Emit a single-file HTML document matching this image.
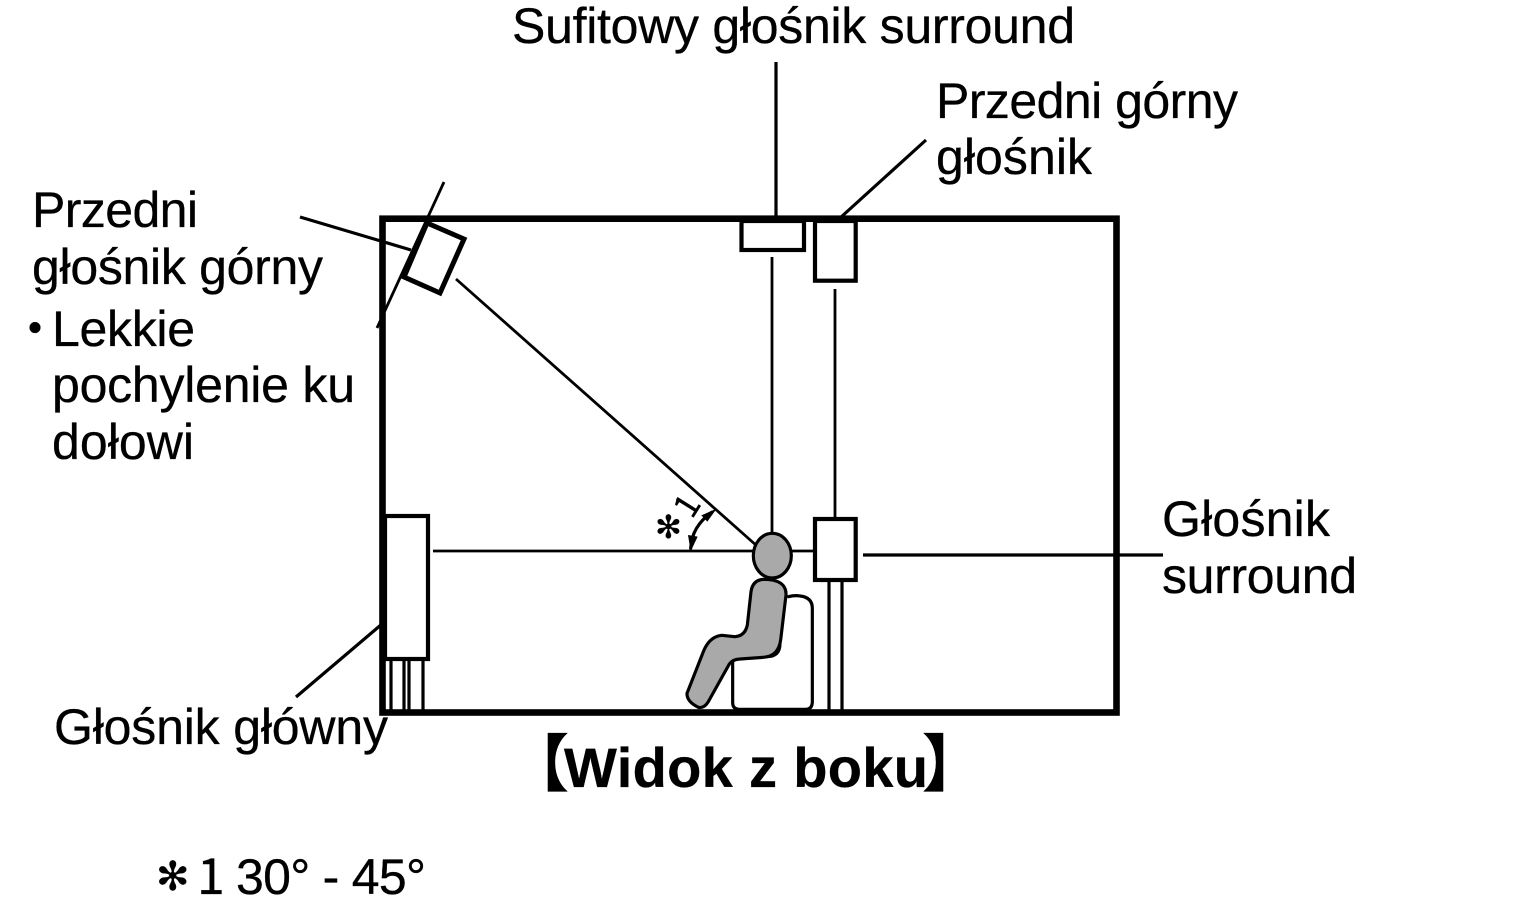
<!DOCTYPE html>
<html lang="pl">
<head>
<meta charset="utf-8">
<title>Widok z boku</title>
<style>
html,body{margin:0;padding:0;background:#fff;width:1525px;height:923px;overflow:hidden}
svg{display:block}
text{font-family:"Liberation Sans","Noto Sans CJK JP",sans-serif;font-size:50px;fill:#000;stroke:#000;stroke-width:.3}
.b{font-weight:bold;font-size:56px}
.br{font-family:"Noto Sans CJK JP",sans-serif;font-weight:bold;font-size:62px}
</style>
</head>
<body>
<svg width="1525" height="923" viewBox="0 0 1525 923" xmlns="http://www.w3.org/2000/svg">
<rect width="1525" height="923" fill="#fff"/>
<g fill="none" stroke="#000">
  <!-- thin sight lines -->
  <g stroke-width="2.8">
    <line x1="433" y1="551" x2="815" y2="551"/>
    <line x1="456" y1="279" x2="757" y2="546"/>
    <line x1="772" y1="257" x2="772" y2="536"/>
    <line x1="835" y1="289" x2="835" y2="518"/>
    <line x1="444" y1="182" x2="377" y2="328"/>
  </g>
  <g stroke-width="3.2">
    <line x1="776" y1="62" x2="776" y2="218"/>
    <line x1="840" y1="218" x2="926" y2="140"/>
    <line x1="300" y1="217" x2="411" y2="250"/>
    <line x1="296" y1="697" x2="382" y2="624"/>
    <line x1="863" y1="555" x2="1163" y2="555"/>
    <line x1="829" y1="582" x2="829" y2="710"/>
    <line x1="842" y1="582" x2="842" y2="710"/>
    <line x1="391" y1="660" x2="391" y2="710"/>
    <line x1="404" y1="660" x2="404" y2="710"/>
    <line x1="409" y1="660" x2="409" y2="710"/>
    <line x1="423" y1="660" x2="423" y2="710"/>
  </g>
  <!-- room -->
  <rect x="382.5" y="218.7" width="734" height="493.8" stroke-width="6.6"/>
  <!-- speakers -->
  <rect x="741.5" y="221" width="62.5" height="29" stroke-width="4.2" fill="#fff"/>
  <rect x="815" y="221" width="40.7" height="59.7" stroke-width="4.2" fill="#fff"/>
  <rect x="815" y="519" width="40.7" height="61" stroke-width="4.2" fill="#fff"/>
  <rect x="385" y="516" width="43" height="143" stroke-width="4.2" fill="#fff"/>
  <polygon points="427,223 464,239 440,293 404,277" stroke-width="5" fill="#fff"/>
</g>
<!-- person and chair, in zoomed coords -->
<g transform="translate(620,480) scale(0.33333)" stroke="#000" fill="none" stroke-width="9.5" stroke-linejoin="round" stroke-linecap="round">
  <path d="M505,350 Q525,345 540,348 Q577,352 577,385 L577,668 Q575,688 558,688 L358,688 Q338,688 338,668 L338,545"/>
  <path d="M480,490 Q480,530 440,530"/>
  <path fill="#a9a9a9" d="M430,298 Q500,298 498,345 L482,480 Q475,530 430,532 L360,537 Q338,538 328,552 L265,665 Q252,686 235,682 Q200,665 201,640 L250,515 Q268,470 305,466 L345,470 Q375,468 382,435 L393,335 Q398,300 430,298 Z"/>
  <ellipse cx="457" cy="227" rx="57" ry="67" fill="#a9a9a9"/>
  <path d="M275,97 Q215,140 212,205"/>
  <polygon fill="#000" stroke="none" points="290,86 262,125 244,106"/>
  <polygon fill="#000" stroke="none" points="212,214 204,165 233,170"/>
</g>
<!-- labels -->
<text x="512" y="43" textLength="563">Sufitowy głośnik surround</text>
<text x="936" y="118" textLength="302">Przedni górny</text>
<text x="936" y="174" textLength="156">głośnik</text>
<text x="32" y="227" textLength="166">Przedni</text>
<text x="32" y="284" textLength="291">głośnik górny</text>
<text x="28" y="341" style="font-size:40px">•</text>
<text x="52" y="346" textLength="143">Lekkie</text>
<text x="52" y="402" textLength="303">pochylenie ku</text>
<text x="52" y="459" textLength="142">dołowi</text>
<text x="1162" y="536" textLength="168">Głośnik</text>
<text x="1162" y="593" textLength="195">surround</text>
<text x="54" y="744" textLength="334">Głośnik główny</text>
<text class="br" x="507" y="786">【</text>
<text class="b" x="564" y="787" textLength="364">Widok z boku</text>
<text class="br" x="922" y="786">】</text>
<text x="156" y="890" style="font-family:'DejaVu Sans',sans-serif;font-size:40px">✻</text>
<text x="197" y="894" style="font-family:'Noto Sans CJK JP',sans-serif;font-size:50px">1</text>
<text x="236" y="894" textLength="190">30° - 45°</text>
<text x="655" y="538" style="font-family:'DejaVu Sans',sans-serif;font-size:32px">✻</text>
<text x="0" y="0" transform="translate(697,512) rotate(-58)" style="font-family:'Noto Sans CJK JP',sans-serif;font-size:34px" text-anchor="middle">1</text>
</svg>
</body>
</html>
